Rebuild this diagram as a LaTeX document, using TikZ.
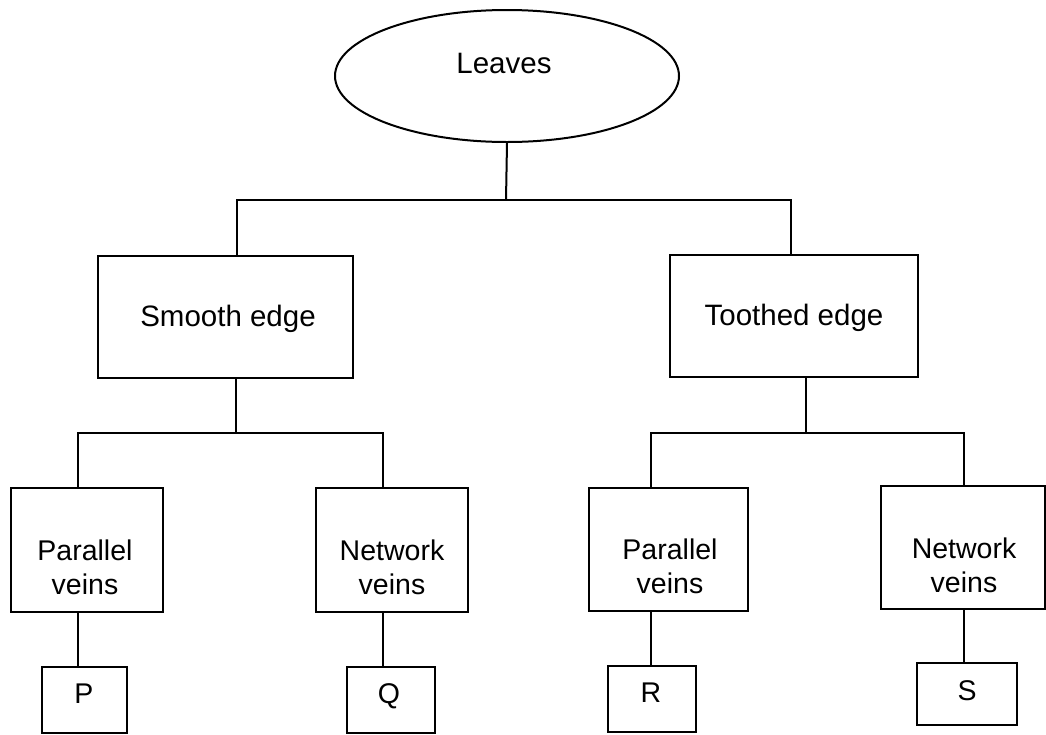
\documentclass[tikz,border=0pt]{standalone}
\usepackage{fontspec}
\setmainfont{Liberation Sans}
\usetikzlibrary{shapes.geometric}
\tikzset{
  line/.style={line width=2pt, black},
  leafshape/.style={ellipse, draw, line width=2pt, minimum width=344pt, minimum height=132pt, inner sep=0pt},
  boxshape/.style={rectangle, draw, line width=2pt, inner sep=0pt},
  txt/.style={inner sep=0pt, font=\fontsize{28.5}{34}\selectfont, align=center},
  bigtxt/.style={inner sep=0pt, font=\fontsize{29.5}{35}\selectfont, align=center},
}
\begin{document}
\begin{tikzpicture}[x=1pt, y=-1pt]
\useasboundingbox (0,0) rectangle (1046,734);
% root
\node[leafshape] (leaves) at (507,76) {};
\node[bigtxt, anchor=base] (leavest) at (504,73) {Leaves};
% level 1
\node[boxshape, minimum width=255pt, minimum height=122pt] (smooth) at (225.5,317) {};
\node[bigtxt, anchor=base] (smootht) at (228,326) {Smooth edge};
\node[boxshape, minimum width=248pt, minimum height=122pt] (toothed) at (794,316) {};
\node[bigtxt, anchor=base] (tootht) at (794,325) {Toothed edge};
% level 2
\node[boxshape, minimum width=152pt, minimum height=124pt] (pl) at (87,550) {};
\node[txt, anchor=center] (plt) at (85,567) {Parallel\\veins};
\node[boxshape, minimum width=152pt, minimum height=124pt] (nl) at (392,550) {};
\node[txt, anchor=center] (nlt) at (392,567) {Network\\veins};
\node[boxshape, minimum width=159pt, minimum height=123pt] (pr) at (668.5,549.5) {};
\node[txt, anchor=center] (prt) at (670,566) {Parallel\\veins};
\node[boxshape, minimum width=164pt, minimum height=123pt] (nr) at (962.5,547.5) {};
\node[txt, anchor=center] (nrt) at (964,565) {Network\\veins};
% leaves letters
\node[boxshape, minimum width=85pt, minimum height=66pt] (p) at (84.5,700) {};
\node[txt, anchor=base] (pt) at (84,703) {P};
\node[boxshape, minimum width=88pt, minimum height=66pt] (q) at (391,700) {};
\node[txt, anchor=base] (qt) at (389,703) {Q};
\node[boxshape, minimum width=88pt, minimum height=66pt] (r) at (652,699) {};
\node[txt, anchor=base] (rt) at (651,702) {R};
\node[boxshape, minimum width=100pt, minimum height=62pt] (s) at (967,694) {};
\node[txt, anchor=base] (st) at (967,700) {S};
% junction coordinates
\coordinate (b0) at (506,200);
\coordinate (b1) at (237,200);
\coordinate (b2) at (791,200);
\coordinate (c1) at (236,433);
\coordinate (c1l) at (78,433);
\coordinate (c1r) at (383,433);
\coordinate (c2) at (806,433);
\coordinate (c2l) at (651,433);
\coordinate (c2r) at (964,433);
% connectors
\draw[line] (leaves.south) -- (b0);
\draw[line] (b1 |- smooth.north) -- (b1) -- (b2) -- (b2 |- toothed.north);
\draw[line] (c1 |- smooth.south) -- (c1);
\draw[line] (c1l |- pl.north) -- (c1l) -- (c1r) -- (c1r |- nl.north);
\draw[line] (c2 |- toothed.south) -- (c2);
\draw[line] (c2l |- pr.north) -- (c2l) -- (c2r) -- (c2r |- nr.north);
\draw[line] (c1l |- pl.south) -- (c1l |- p.north);
\draw[line] (c1r |- nl.south) -- (c1r |- q.north);
\draw[line] (c2l |- pr.south) -- (c2l |- r.north);
\draw[line] (c2r |- nr.south) -- (c2r |- s.north);
\end{tikzpicture}
\end{document}
